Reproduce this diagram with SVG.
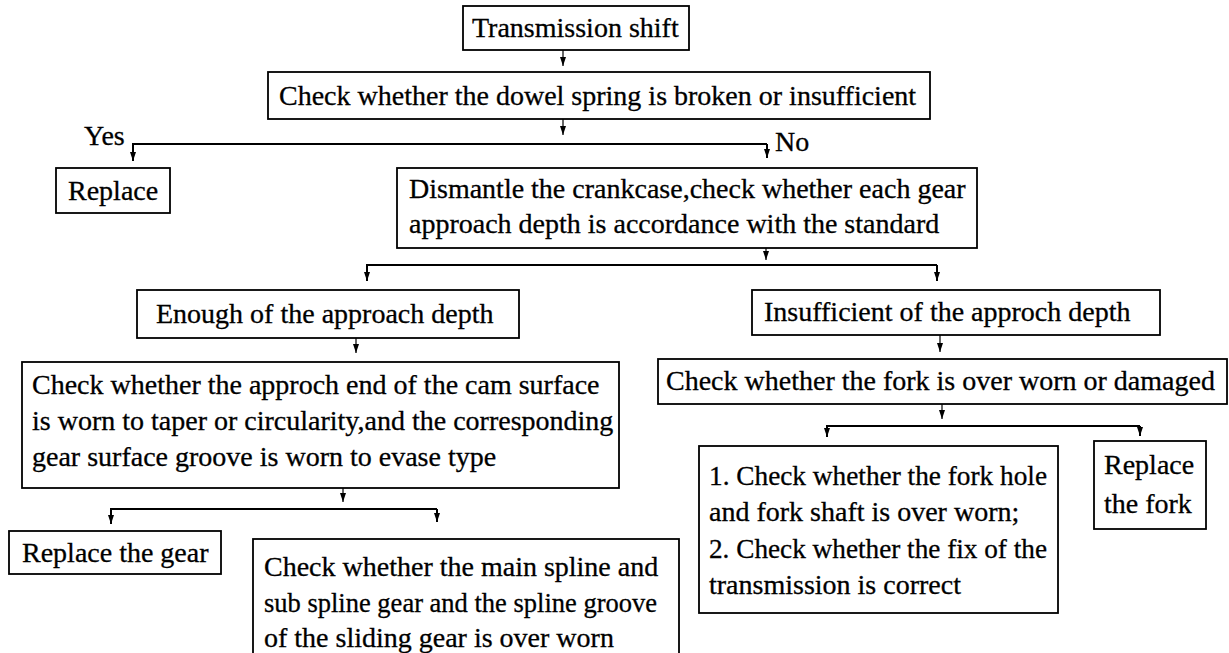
<svg xmlns="http://www.w3.org/2000/svg" width="1229" height="653" viewBox="0 0 1229 653">
<defs>
<style>
.box{fill:#fff;stroke:#000;stroke-width:1.8}
.t{font-family:"Liberation Serif","Times New Roman",serif;font-size:28px;fill:#000;stroke:#000;stroke-width:0.3}
.stem{fill:none;stroke:#000;stroke-width:1.2}
.bus{fill:none;stroke:#000;stroke-width:2}
</style>
<marker id="ah" markerUnits="userSpaceOnUse" markerWidth="9" markerHeight="6" refX="9" refY="3" orient="auto">
<path d="M0,0 L9,3 L0,6 z" fill="#000"/>
</marker>
</defs>
<rect width="1229" height="653" fill="#fff"/>

<g id="connectors">
<line class="stem" x1="563" y1="50" x2="563" y2="66" marker-end="url(#ah)"/>
<line class="stem" x1="563" y1="119" x2="563" y2="135" marker-end="url(#ah)"/>
<path class="bus" d="M767,144 H133 V161" marker-end="url(#ah)"/>
<path class="bus" d="M767,144 V158" marker-end="url(#ah)"/>
<text class="t" x="84" y="145">Yes</text>
<text class="t" x="775" y="151">No</text>
<line class="stem" x1="766" y1="248" x2="766" y2="260" marker-end="url(#ah)"/>
<path class="bus" d="M937,265 H367 V281" marker-end="url(#ah)"/>
<path class="bus" d="M937,265 V281" marker-end="url(#ah)"/>
<line class="stem" x1="356" y1="338" x2="356" y2="353" marker-end="url(#ah)"/>
<line class="stem" x1="343" y1="488" x2="343" y2="502" marker-end="url(#ah)"/>
<path class="bus" d="M437,509 H111 V524" marker-end="url(#ah)"/>
<path class="bus" d="M437,509 V522" marker-end="url(#ah)"/>
<line class="stem" x1="940" y1="334" x2="940" y2="352" marker-end="url(#ah)"/>
<line class="stem" x1="942" y1="404" x2="942" y2="419" marker-end="url(#ah)"/>
<path class="bus" d="M1140,426 H827 V437" marker-end="url(#ah)"/>
<path class="bus" d="M1140,426 V436" marker-end="url(#ah)"/>
</g>

<g id="n-transmission">
<rect class="box" x="463" y="6" width="226" height="44"/>
<text class="t" x="472" y="37">Transmission shift</text>
</g>
<g id="n-dowel">
<rect class="box" x="268" y="72" width="662" height="47"/>
<text class="t" x="279" y="105">Check whether the dowel spring is broken or insufficient</text>
</g>
<g id="n-replace">
<rect class="box" x="56" y="168" width="114" height="45"/>
<text class="t" x="68" y="200">Replace</text>
</g>
<g id="n-dismantle">
<rect class="box" x="397" y="168" width="580" height="80"/>
<text class="t" x="409" y="198">Dismantle the crankcase,check whether each gear</text>
<text class="t" x="409" y="233">approach depth is accordance with the standard</text>
</g>
<g id="n-enough">
<rect class="box" x="137" y="290" width="382" height="48"/>
<text class="t" x="156" y="323">Enough of the approach depth</text>
</g>
<g id="n-cam">
<rect class="box" x="22" y="362" width="597" height="126"/>
<text class="t" x="32" y="394">Check whether the approch end of the cam surface</text>
<text class="t" x="32" y="430">is worn to taper or circularity,and the corresponding</text>
<text class="t" x="32" y="466">gear surface groove is worn to evase type</text>
</g>
<g id="n-replace-gear">
<rect class="box" x="9" y="531" width="212" height="43"/>
<text class="t" x="22" y="562">Replace the gear</text>
</g>
<g id="n-spline">
<rect class="box" x="253" y="539" width="426" height="140"/>
<text class="t" x="264" y="576">Check whether the main spline and</text>
<text class="t" x="264" y="612" textLength="393" lengthAdjust="spacingAndGlyphs">sub spline gear and the spline groove</text>
<text class="t" x="264" y="647">of the sliding gear is over worn</text>
</g>
<g id="n-insufficient">
<rect class="box" x="752" y="290" width="408" height="45"/>
<text class="t" x="764" y="321">Insufficient of the approch depth</text>
</g>
<g id="n-fork">
<rect class="box" x="658" y="359" width="569" height="45"/>
<text class="t" x="666" y="390">Check whether the fork is over worn or damaged</text>
</g>
<g id="n-checks">
<rect class="box" x="699" y="446" width="359" height="167"/>
<text class="t" x="709" y="485" textLength="338" lengthAdjust="spacingAndGlyphs">1. Check whether the fork hole</text>
<text class="t" x="709" y="521">and fork shaft is over worn;</text>
<text class="t" x="709" y="558" textLength="338" lengthAdjust="spacingAndGlyphs">2. Check whether the fix of the</text>
<text class="t" x="709" y="594">transmission is correct</text>
</g>
<g id="n-replace-fork">
<rect class="box" x="1094" y="441" width="112" height="88"/>
<text class="t" x="1104" y="474">Replace</text>
<text class="t" x="1104" y="513">the fork</text>
</g>
</svg>
